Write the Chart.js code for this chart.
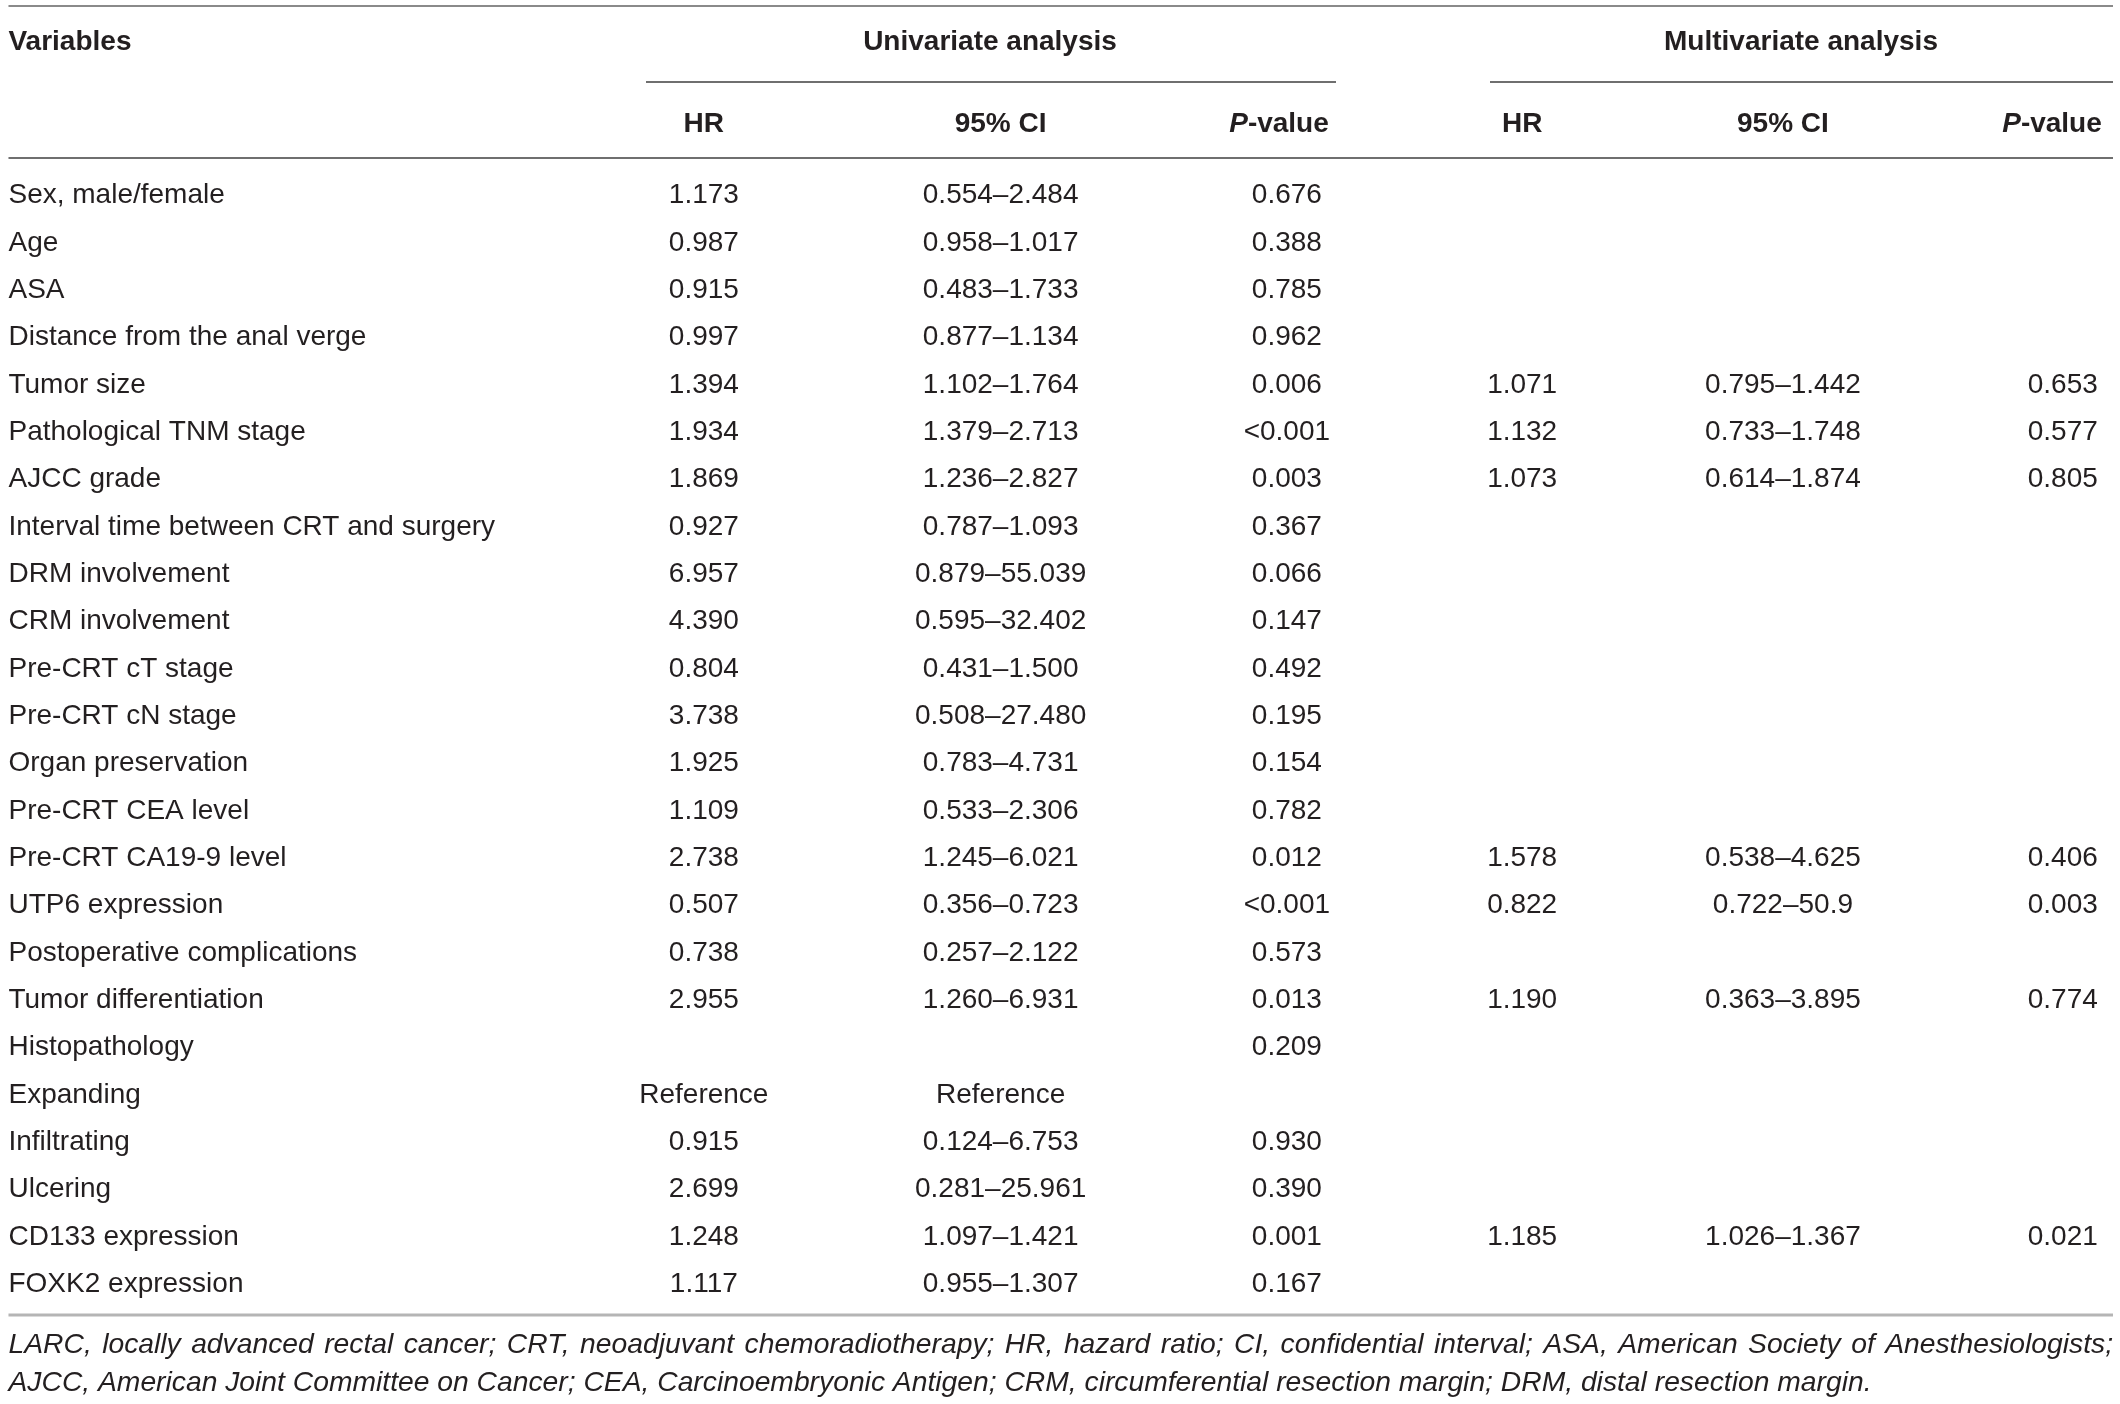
<!DOCTYPE html>
<html>
<head>
<meta charset="utf-8">
<script src="https://cdn.jsdelivr.net/npm/chart.js@4.4.1/dist/chart.umd.min.js"></script>
<style>
  html, body { margin: 0; padding: 0; background: #fff; }
  #wrap { width: 2120px; height: 1404px; }
</style>
</head>
<body>
<div id="wrap"><canvas id="tabela" width="2120" height="1404"></canvas></div>
<script>
// Table data
const variables = [
  "Sex, male/female", "Age", "ASA", "Distance from the anal verge", "Tumor size",
  "Pathological TNM stage", "AJCC grade", "Interval time between CRT and surgery",
  "DRM involvement", "CRM involvement", "Pre-CRT cT stage", "Pre-CRT cN stage",
  "Organ preservation", "Pre-CRT CEA level", "Pre-CRT CA19-9 level", "UTP6 expression",
  "Postoperative complications", "Tumor differentiation", "Histopathology", "Expanding",
  "Infiltrating", "Ulcering", "CD133 expression", "FOXK2 expression",
];
const uniHR = [
  "1.173", "0.987", "0.915", "0.997", "1.394", "1.934", "1.869", "0.927", "6.957", "4.390",
  "0.804", "3.738", "1.925", "1.109", "2.738", "0.507", "0.738", "2.955", "", "Reference",
  "0.915", "2.699", "1.248", "1.117",
];
const uniCI = [
  "0.554–2.484", "0.958–1.017", "0.483–1.733", "0.877–1.134", "1.102–1.764", "1.379–2.713",
  "1.236–2.827", "0.787–1.093", "0.879–55.039", "0.595–32.402", "0.431–1.500", "0.508–27.480",
  "0.783–4.731", "0.533–2.306", "1.245–6.021", "0.356–0.723", "0.257–2.122", "1.260–6.931",
  "", "Reference", "0.124–6.753", "0.281–25.961", "1.097–1.421", "0.955–1.307",
];
const uniP = [
  "0.676", "0.388", "0.785", "0.962", "0.006", "<0.001", "0.003", "0.367", "0.066", "0.147",
  "0.492", "0.195", "0.154", "0.782", "0.012", "<0.001", "0.573", "0.013", "0.209", "",
  "0.930", "0.390", "0.001", "0.167",
];
const multiHR = [
  "", "", "", "", "1.071", "1.132", "1.073", "", "", "", "", "", "", "", "1.578", "0.822",
  "", "1.190", "", "", "", "", "1.185", "",
];
const multiCI = [
  "", "", "", "", "0.795–1.442", "0.733–1.748", "0.614–1.874", "", "", "", "", "", "", "",
  "0.538–4.625", "0.722–50.9", "", "0.363–3.895", "", "", "", "", "1.026–1.367", "",
];
const multiP = [
  "", "", "", "", "0.653", "0.577", "0.805", "", "", "", "", "", "", "", "0.406", "0.003",
  "", "0.774", "", "", "", "", "0.021", "",
];
const groupHeaders = ["Univariate analysis", "Multivariate analysis"];
const subHeaders = ["HR", "95% CI", "P-value"];
const footnotes = [
  "LARC, locally advanced rectal cancer; CRT, neoadjuvant chemoradiotherapy; HR, hazard ratio; CI, confidential interval; ASA, American Society of Anesthesiologists;",
  "AJCC, American Joint Committee on Cancer; CEA, Carcinoembryonic Antigen; CRM, circumferential resection margin; DRM, distal resection margin.",
];

// Layout (x in percent of table width)
const colPos = { vars: 0.4, uHR: 33.2, uCI: 47.2, uP: 60.7, mHR: 71.8, mCI: 84.1, mP: 97.3 };
const FONT = "'Liberation Sans', Arial, sans-serif";
const TEXT_COLOR = "#231f20";

const ctx = document.getElementById("tabela").getContext("2d");

// one invisible scatter dataset per column, one point per non-empty cell
function colunaDataset(valores, x, align) {
  const pts = [];
  const txt = [];
  valores.forEach((v, i) => {
    if (v !== "") {
      pts.push({ x: x, y: variables[i] });
      txt.push(v);
    }
  });
  return { data: pts, cellText: txt, align: align, pointRadius: 0, pointHoverRadius: 0 };
}

const tablePlugin = {
  id: "tablePlugin",
  afterDatasetsDraw(chart) {
    const c = chart.ctx;
    const area = chart.chartArea;
    const xs = chart.scales.x;
    const left = xs.getPixelForValue(colPos.vars);
    const right = 2113;
    c.save();
    c.fillStyle = TEXT_COLOR;
    c.textBaseline = "middle";

    // cells
    chart.data.datasets.forEach((ds, di) => {
      const meta = chart.getDatasetMeta(di);
      c.font = "28px " + FONT;
      c.textAlign = ds.align;
      meta.data.forEach((el, j) => {
        c.fillText(ds.cellText[j], el.x, el.y);
      });
    });

    // rules
    const rule = (x1, x2, y, color, w) => {
      c.strokeStyle = color;
      c.lineWidth = w;
      c.beginPath();
      c.moveTo(x1, y);
      c.lineTo(x2, y);
      c.stroke();
    };
    rule(left, right, 6, "#8a8a8a", 2);
    rule(646, 1336, area.top - 90, "#6f6f6f", 2);
    rule(1490, right, area.top - 90, "#6f6f6f", 2);
    rule(left, right, area.top - 14, "#6f6f6f", 2);
    rule(left, right, area.bottom + 7, "#b5b5b5", 3);

    // header
    c.font = "bold 28px " + FONT;
    c.textAlign = "left";
    c.fillText("Variables", left, area.top - 130);
    c.textAlign = "center";
    c.fillText(groupHeaders[0], 990, area.top - 130);
    c.fillText(groupHeaders[1], 1801, area.top - 130);

    const yh = area.top - 48;
    c.fillText(subHeaders[0], xs.getPixelForValue(colPos.uHR), yh);
    c.fillText(subHeaders[1], xs.getPixelForValue(colPos.uCI), yh);
    c.fillText(subHeaders[0], xs.getPixelForValue(colPos.mHR), yh);
    c.fillText(subHeaders[1], xs.getPixelForValue(colPos.mCI), yh);

    // P-value with italic P
    const pValue = (cx) => {
      c.font = "italic bold 28px " + FONT;
      const wP = c.measureText("P").width;
      c.font = "bold 28px " + FONT;
      const wR = c.measureText(subHeaders[2].slice(1)).width;
      const x0 = cx - (wP + wR) / 2;
      c.textAlign = "left";
      c.font = "italic bold 28px " + FONT;
      c.fillText("P", x0, yh);
      c.font = "bold 28px " + FONT;
      c.fillText(subHeaders[2].slice(1), x0 + wP, yh);
    };
    pValue(1279);
    pValue(2052);

    // footnote (first line justified)
    c.font = "italic 100px " + FONT;
    const size = (100 * 1863) / c.measureText(footnotes[1]).width;
    c.font = "italic " + size.toFixed(2) + "px " + FONT;
    c.textAlign = "left";
    const palavras = footnotes[0].split(" ");
    const soma = palavras.reduce((s, p) => s + c.measureText(p).width, 0);
    const gap = (right - left - soma) / (palavras.length - 1);
    let x = left;
    palavras.forEach((p) => {
      c.fillText(p, x, area.bottom + 37);
      x += c.measureText(p).width + gap;
    });
    c.fillText(footnotes[1], left, area.bottom + 75);
    c.restore();
  },
};

new Chart(ctx, {
  type: "scatter",
  data: {
    labels: variables,
    datasets: [
      colunaDataset(variables, colPos.vars, "left"),
      colunaDataset(uniHR, colPos.uHR, "center"),
      colunaDataset(uniCI, colPos.uCI, "center"),
      colunaDataset(uniP, colPos.uP, "center"),
      colunaDataset(multiHR, colPos.mHR, "center"),
      colunaDataset(multiCI, colPos.mCI, "center"),
      colunaDataset(multiP, colPos.mP, "center"),
    ],
  },
  options: {
    responsive: false,
    animation: false,
    devicePixelRatio: 1,
    layout: { padding: { top: 172, bottom: 96, left: 0, right: 0 } },
    plugins: { legend: { display: false }, tooltip: { enabled: false } },
    events: [],
    scales: {
      x: { type: "linear", min: 0, max: 100, display: false },
      y: { type: "category", labels: variables, offset: true, display: false },
    },
  },
  plugins: [tablePlugin],
});
</script>
</body>
</html>
